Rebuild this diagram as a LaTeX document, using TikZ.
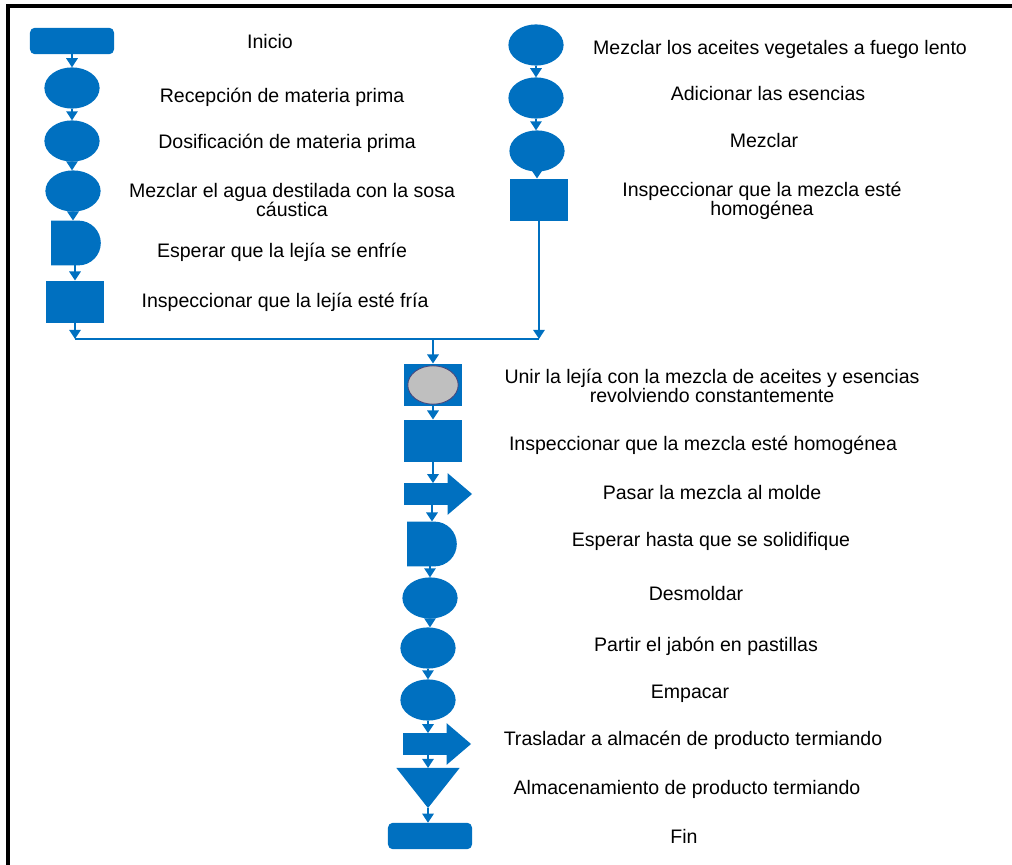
\documentclass[tikz,border=0pt]{standalone}
\usepackage{fontspec}
\setmainfont{Liberation Sans}
\usetikzlibrary{positioning,shapes.geometric,shapes.misc,shapes.arrows,arrows.meta}
\definecolor{flowblue}{RGB}{0,112,192}
\definecolor{opgray}{RGB}{191,191,191}
\definecolor{oprim}{RGB}{70,70,125}
\begin{document}
\begin{tikzpicture}[x=0.025cm, y=0.025cm,
  every node/.style={inner sep=0pt, outer sep=0pt},
  terminal/.style={rectangle, rounded corners=0.12cm, fill=flowblue, minimum width=2.1cm, minimum height=0.66cm},
  oper/.style={ellipse, fill=flowblue, minimum width=1.38cm, minimum height=1.03cm},
  insp/.style={rectangle, fill=flowblue, minimum width=1.43cm, minimum height=1.07cm},
  waitbox/.style={rounded rectangle, rounded rectangle west arc=none, fill=flowblue, minimum width=1.24cm, minimum height=1.12cm},
  transp/.style={single arrow, fill=flowblue, inner ysep=0.2625cm, minimum height=1.7cm, single arrow head extend=0.25cm, single arrow tip angle=81, anchor=tail},
  storebox/.style={rectangle, minimum width=1.58cm, minimum height=1cm},
  lbl/.style={align=center, font=\fontsize{13.9}{13.9}\selectfont},
  flow/.style={draw=flowblue, line width=1.7pt, -{Triangle[width=8pt,length=6.5pt]}},
  link/.style={draw=flowblue, line width=1.7pt}]
\useasboundingbox (0,0) rectangle (1012,-865);
\draw[line width=2.2pt] (8,-865) -- (8,-6) -- (1012,-6);

\node[terminal] (ini) at (72,-41) {};
\node[oper] (rec) at (72,-88) {};
\node[oper] (dos) at (72,-141) {};
\node[oper] (mez) at (73,-191) {};
\node[waitbox] (esp) at (76,-243) {};
\node[insp] (insl) at (75,-302) {};

\node[oper] (ace) at (536,-45) {};
\node[oper] (adi) at (536,-98) {};
\node[oper] (mzc) at (537,-151) {};
\node[insp] (insr) at (539,-200) {};

\node[insp, minimum width=1.45cm] (unir) at (433,-385) {};
\node[ellipse, fill=opgray, draw=oprim, line width=0.6pt, minimum width=1.26cm, minimum height=0.96cm] (unirop) at (unir) {};
\node[insp, minimum width=1.45cm] (insm) at (433,-441) {};
\node[transp] (pasar) at (404,-494) {};
\node[waitbox] (espm) at (432,-544) {};
\node[oper] (desm) at (430,-598) {};
\node[oper] (part) at (428,-648) {};
\node[oper] (emp) at (428,-700) {};
\node[transp] (tras) at (403,-744) {};
\node[storebox] (alm) at (428,-788) {};
\fill[flowblue] (alm.north west) -- (alm.north east) -- (alm.south) -- cycle;
\node[terminal] (fin) at (430,-836) {};

\node[lbl] (tini) at (270,-42) {Inicio};
\node[lbl] (trec) at (282,-97) {Recepción de materia prima};
\node[lbl] (tdos) at (287,-143) {Dosificación de materia prima};
\node[lbl] (tmez) at (292,-200) {Mezclar el agua destilada con la sosa\\cáustica};
\node[lbl] (tesp) at (282,-252) {Esperar que la lejía se enfríe};
\node[lbl] (tinsl) at (285,-302) {Inspeccionar que la lejía esté fría};
\node[lbl] (tace) at (780,-49) {Mezclar los aceites vegetales a fuego lento};
\node[lbl] (tadi) at (768,-94) {Adicionar las esencias};
\node[lbl] (tmzc) at (764,-141) {Mezclar};
\node[lbl] (tinsr) at (762,-201) {Inspeccionar que la mezcla esté\\homogénea};
\node[lbl] (tunir) at (712,-386) {Unir la lejía con la mezcla de aceites y esencias\\revolviendo constantemente};
\node[lbl] (tinsm) at (703,-445) {Inspeccionar que la mezcla esté homogénea};
\node[lbl] (tpasar) at (712,-493) {Pasar la mezcla al molde};
\node[lbl] (tespm) at (711,-541) {Esperar hasta que se solidifique};
\node[lbl] (tdesm) at (696,-594) {Desmoldar};
\node[lbl] (tpart) at (706,-646) {Partir el jabón en pastillas};
\node[lbl] (temp) at (690,-694) {Empacar};
\node[lbl] (ttras) at (693,-740) {Trasladar a almacén de producto termiando};
\node[lbl] (talm) at (687,-789) {Almacenamiento de producto termiando};
\node[lbl] (tfin) at (684,-836) {Fin};

\draw[flow] (ini.south) -- (ini.south |- rec.north);
\draw[flow] (rec.south) -- (rec.south |- dos.north);
\draw[flow] (dos.south) -- (dos.south |- mez.north);
\draw[flow] (mez.south) -- (mez.south |- esp.north);
\draw[flow] (esp.south -| insl.south) -- (insl.north);
\draw[flow] (ace.south) -- (ace.south |- adi.north);
\draw[flow] (adi.south) -- (adi.south |- mzc.north);
\draw[flow] (mzc.south) -- (mzc.south |- insr.north);

\coordinate (jl) at (insl.south |- 0,-339);
\coordinate (jr) at (insr.south |- 0,-339);
\coordinate (jm) at (unir.north |- 0,-339);
\draw[flow] (insl.south) -- (jl);
\draw[flow] (insr.south) -- (jr);
\draw[link] (jl) -- (jr);
\draw[flow] (jm) -- (unir.north);

\draw[flow] (unir.south) -- (insm.north);
\draw[flow] (insm.south) -- (insm.south |- pasar.north);
\draw[flow] (espm.north |- pasar.south) -- (espm.north);
\draw[flow] (espm.south -| desm.north) -- (desm.north);
\draw[flow] (desm.south) -- (desm.south |- part.north);
\draw[flow] (part.south) -- (emp.north);
\draw[flow] (emp.south) -- (emp.south |- tras.north);
\draw[flow] (alm.north |- tras.south) -- (alm.north);
\draw[flow] (alm.south) -- (alm.south |- fin.north);
\end{tikzpicture}
\end{document}
